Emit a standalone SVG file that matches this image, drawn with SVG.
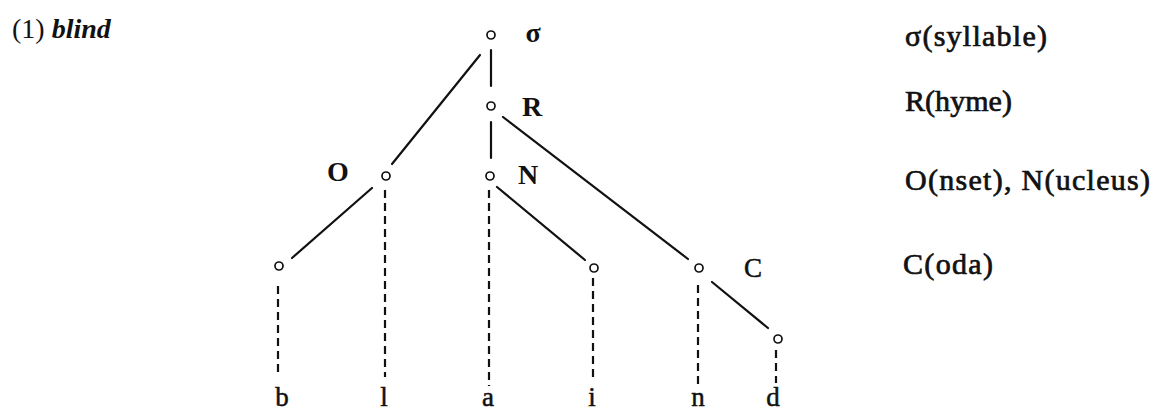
<svg xmlns="http://www.w3.org/2000/svg" width="1159" height="413" viewBox="0 0 1159 413">
<style>
.bg{fill:#ffffff}
.ln{stroke:#111;stroke-width:2.2;fill:none;stroke-linecap:round}
.ds{stroke:#111;stroke-width:2.2;fill:none;stroke-dasharray:8 5}
.nd{fill:#fff;stroke:#111;stroke-width:1.7}
.lb{font-family:"Liberation Serif",serif;font-weight:bold;font-size:28px;fill:#111;text-anchor:middle}
.lf{font-family:"Liberation Serif",serif;font-size:27px;fill:#111;text-anchor:middle;stroke:#111;stroke-width:0.5}
.rt{font-family:"Liberation Serif",serif;font-size:30px;fill:#111;stroke:#111;stroke-width:0.7}
.tt{font-family:"Liberation Serif",serif;font-size:28px;fill:#111}
</style>
<rect class="bg" x="0" y="0" width="1159" height="413"/>
<g id="title"><text class="tt" x="12" y="38">(1) <tspan font-style="italic" font-weight="bold">blind</tspan></text></g>
<g id="connectors">
<line class="ln" x1="491" y1="50" x2="491" y2="86"/>
<line class="ln" x1="480" y1="55" x2="392" y2="164"/>
<line class="ln" x1="491" y1="122" x2="491" y2="158"/>
<line class="ln" x1="503" y1="117" x2="688" y2="259"/>
<line class="ln" x1="372" y1="188" x2="292" y2="258"/>
<line class="ln" x1="497" y1="187" x2="585" y2="260"/>
<line class="ln" x1="712" y1="282" x2="768" y2="328"/>
<line class="ds" x1="278" y1="286" x2="278" y2="377"/>
<line class="ds" x1="385" y1="190" x2="385" y2="377"/>
<line class="ds" x1="489" y1="190" x2="489" y2="386"/>
<line class="ds" x1="593" y1="278" x2="593" y2="380"/>
<line class="ds" x1="698" y1="285" x2="698" y2="388"/>
<line class="ds" x1="776" y1="350" x2="776" y2="383"/>
</g>
<g id="sigma"><circle class="nd" cx="491" cy="35" r="4"/><text class="lb" x="533" y="42">σ</text></g>
<g id="R"><circle class="nd" cx="491" cy="106" r="4"/><text class="lb" x="532" y="116">R</text></g>
<g id="O"><circle class="nd" cx="386" cy="176" r="4"/><text class="lb" x="338" y="181">O</text></g>
<g id="N"><circle class="nd" cx="490" cy="176" r="4"/><text class="lb" x="528" y="184">N</text></g>
<g id="onset-node"><circle class="nd" cx="279" cy="266" r="4"/></g>
<g id="i-node"><circle class="nd" cx="594" cy="268" r="4"/></g>
<g id="C"><circle class="nd" cx="699" cy="268" r="4"/><text class="lf" x="753" y="277" font-size="30">C</text></g>
<g id="d-node"><circle class="nd" cx="778" cy="339" r="4"/></g>
<g id="segments">
<text class="lf" x="282" y="406">b</text>
<text class="lf" x="384" y="406">l</text>
<text class="lf" x="488" y="406">a</text>
<text class="lf" x="592" y="406">i</text>
<text class="lf" x="698" y="406">n</text>
<text class="lf" x="773" y="406">d</text>
</g>
<g id="legend">
<text class="rt" x="905" y="46" textLength="142">σ(syllable)</text>
<text class="rt" x="905" y="111" textLength="107">R(hyme)</text>
<text class="rt" x="905" y="190" textLength="245">O(nset), N(ucleus)</text>
<text class="rt" x="903" y="274" textLength="90">C(oda)</text>
</g>
</svg>
